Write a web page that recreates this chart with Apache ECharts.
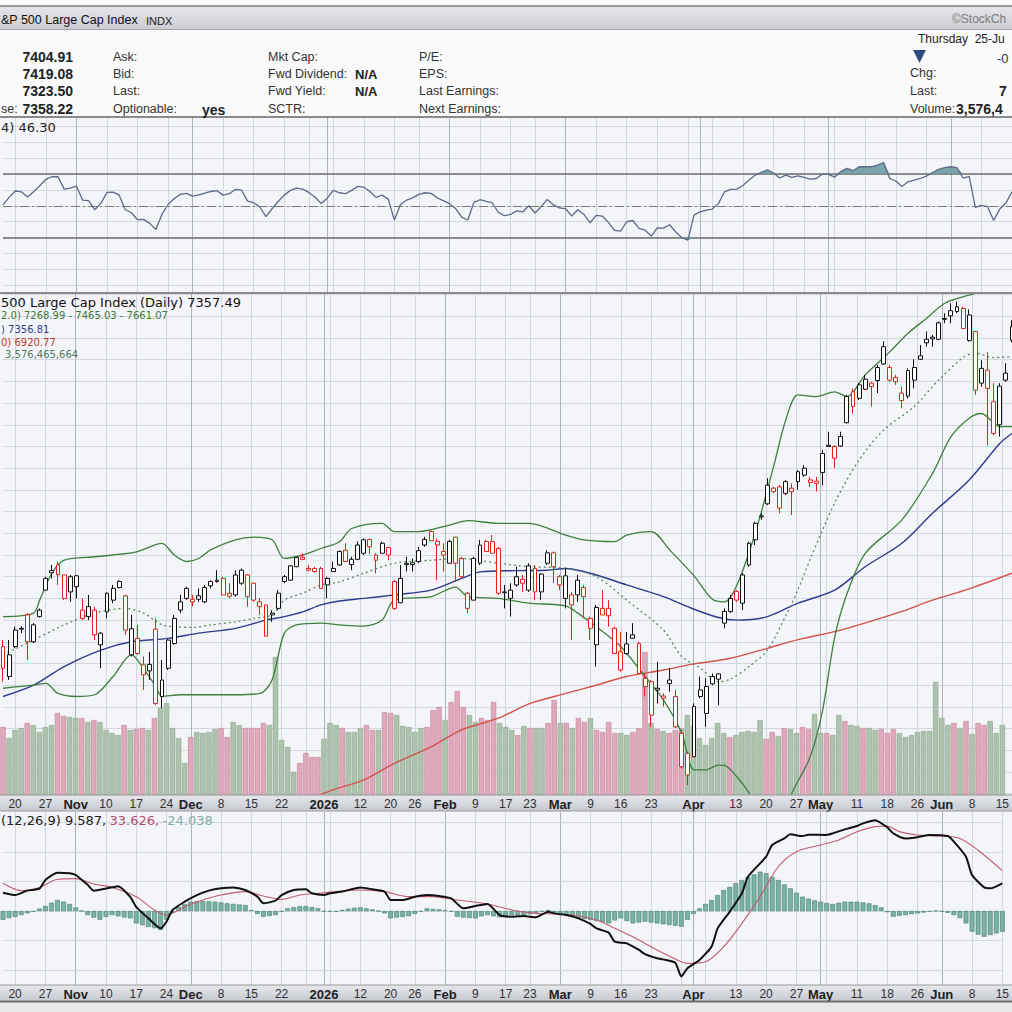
<!DOCTYPE html>
<html>
<head>
<meta charset="utf-8">
<title>S&amp;P 500 Large Cap Index (Daily)</title>
<script src="https://cdn.jsdelivr.net/npm/echarts@6/dist/echarts.min.js"></script>
<style>
  html, body { margin: 0; padding: 0; background: #f4f5f8; }
  #chart { width: 1012px; height: 1012px; }
</style>
</head>
<body>
<div id="chart"></div>
<script>
// trading days visible in the picture
const dates = [
  '2025-10-16','2025-10-17','2025-10-20','2025-10-21','2025-10-22','2025-10-23','2025-10-24','2025-10-27','2025-10-28','2025-10-29','2025-10-30','2025-10-31',
  '2025-11-03','2025-11-04','2025-11-05','2025-11-06','2025-11-07','2025-11-10','2025-11-11','2025-11-12','2025-11-13','2025-11-14','2025-11-17','2025-11-18','2025-11-19','2025-11-20','2025-11-21','2025-11-24','2025-11-25','2025-11-26','2025-11-28',
  '2025-12-01','2025-12-02','2025-12-03','2025-12-04','2025-12-05','2025-12-08','2025-12-09','2025-12-10','2025-12-11','2025-12-12','2025-12-15','2025-12-16','2025-12-17','2025-12-18','2025-12-19','2025-12-22','2025-12-23','2025-12-24','2025-12-26','2025-12-29','2025-12-30','2025-12-31',
  '2026-01-02','2026-01-05','2026-01-06','2026-01-07','2026-01-08','2026-01-09','2026-01-12','2026-01-13','2026-01-14','2026-01-15','2026-01-16','2026-01-20','2026-01-21','2026-01-22','2026-01-23','2026-01-26','2026-01-27','2026-01-28','2026-01-29','2026-01-30',
  '2026-02-02','2026-02-03','2026-02-04','2026-02-05','2026-02-06','2026-02-09','2026-02-10','2026-02-11','2026-02-12','2026-02-13','2026-02-17','2026-02-18','2026-02-19','2026-02-20','2026-02-23','2026-02-24','2026-02-25','2026-02-26','2026-02-27',
  '2026-03-02','2026-03-03','2026-03-04','2026-03-05','2026-03-06','2026-03-09','2026-03-10','2026-03-11','2026-03-12','2026-03-13','2026-03-16','2026-03-17','2026-03-18','2026-03-19','2026-03-20','2026-03-23','2026-03-24','2026-03-25','2026-03-26','2026-03-27','2026-03-30','2026-03-31',
  '2026-04-01','2026-04-02','2026-04-06','2026-04-07','2026-04-08','2026-04-09','2026-04-10','2026-04-13','2026-04-14','2026-04-15','2026-04-16','2026-04-17','2026-04-20','2026-04-21','2026-04-22','2026-04-23','2026-04-24','2026-04-27','2026-04-28','2026-04-29','2026-04-30',
  '2026-05-01','2026-05-04','2026-05-05','2026-05-06','2026-05-07','2026-05-08','2026-05-11','2026-05-12','2026-05-13','2026-05-14','2026-05-15','2026-05-18','2026-05-19','2026-05-20','2026-05-21','2026-05-22','2026-05-26','2026-05-27','2026-05-28','2026-05-29',
  '2026-06-01','2026-06-02','2026-06-03','2026-06-04','2026-06-05','2026-06-08','2026-06-09','2026-06-10','2026-06-11','2026-06-12','2026-06-15'
];

// daily OHLC
const opens = [
  6689,6620,6689,6731,6762,6700,6758,6819,6864,6877,
  6854,6850,6852,6773,6758,6773,6693,6769,6796,6839,
  6806,6670,6708,6647,6633,6729,6574,6639,6696,6773,
  6800,6798,6798,6792,6839,6842,6846,6812,6808,6835,
  6854,6835,6792,6785,6766,6777,6839,6842,6873,6895,
  6869,6869,6869,6846,6862,6877,6911,6878,6890,6904,
  6936,6900,6927,6917,6839,6790,6878,6878,6885,6923,
  6954,6931,6908,6881,6941,6892,6812,6796,6881,6931,
  6931,6915,6815,6800,6831,6844,6819,6869,6815,6881,
  6905,6831,6800,6785,6808,6825,6754,6693,6777,6777,
  6731,6677,6673,6716,6696,6597,6608,6593,6575,6612,
  6574,6489,6443,6435,6574,6535,6603,6614,6743,6770,
  6816,6789,6877,6935,6988,7018,7054,7057,7042,7054,
  7069,7084,7073,7070,7090,7153,7150,7151,7205,7276,
  7261,7282,7288,7302,7340,7332,7309,7273,7266,7303,
  7351,7389,7402,7397,7445,7451,7461,7468,7394,7415,
  7330,7326,7253,7200,7303,7395
];
const closes = [
  6639,6670,6727,6729,6700,6739,6773,6846,6859,6855,
  6800,6815,6827,6754,6781,6716,6720,6812,6823,6825,
  6727,6730,6673,6624,6648,6558,6612,6704,6754,6792,
  6823,6792,6806,6825,6829,6839,6808,6805,6854,6865,
  6804,6796,6781,6713,6762,6812,6850,6875,6894,6890,
  6865,6862,6823,6831,6869,6908,6885,6890,6923,6935,
  6919,6888,6904,6900,6777,6846,6881,6882,6910,6936,
  6933,6923,6900,6931,6881,6850,6777,6892,6923,6908,
  6904,6812,6813,6819,6850,6835,6875,6815,6856,6905,
  6873,6850,6852,6808,6842,6804,6731,6779,6762,6760,
  6673,6635,6695,6708,6627,6616,6531,6589,6570,6604,
  6504,6412,6393,6551,6589,6597,6620,6626,6770,6800,
  6796,6854,6927,6973,6990,7061,7046,7008,7069,7046,
  7092,7100,7067,7065,7134,7150,7123,7173,7265,7242,
  7292,7305,7296,7332,7380,7303,7299,7256,7325,7332,
  7359,7397,7398,7435,7443,7463,7472,7422,7453,7280,
  7296,7284,7180,7289,7319,7426
];
const lows = [
  6608,6612,6685,6720,6658,6697,6756,6818,6846,6831,
  6796,6792,6800,6750,6750,6704,6639,6754,6789,6823,
  6716,6666,6670,6589,6612,6554,6547,6635,6693,6766,
  6796,6782,6792,6789,6823,6836,6808,6800,6804,6831,
  6781,6792,6762,6712,6746,6773,6835,6841,6872,6888,
  6862,6859,6822,6800,6861,6875,6885,6865,6888,6900,
  6902,6858,6904,6888,6773,6789,6862,6862,6881,6919,
  6933,6842,6862,6881,6839,6846,6766,6796,6877,6908,
  6904,6808,6777,6758,6827,6815,6815,6796,6796,6877,
  6835,6819,6777,6704,6792,6754,6704,6643,6762,6735,
  6672,6631,6670,6708,6625,6574,6504,6558,6551,6585,
  6501,6408,6370,6435,6570,6504,6600,6554,6731,6766,
  6792,6773,6873,6923,6981,7015,7042,6996,7038,6992,
  7050,7080,7057,7046,7061,7149,7100,7149,7203,7226,
  7257,7280,7242,7273,7338,7299,7292,7238,7261,7284,
  7349,7380,7380,7395,7434,7434,7457,7422,7392,7269,
  7288,7153,7176,7173,7299,7390
];
const highs = [
  6704,6704,6735,6736,6766,6743,6777,6850,6877,6885,
  6854,6854,6854,6800,6808,6781,6722,6814,6831,6842,
  6808,6762,6739,6666,6677,6754,6658,6706,6762,6808,
  6827,6808,6823,6831,6842,6865,6850,6835,6865,6869,
  6856,6836,6800,6786,6773,6819,6854,6877,6896,6904,
  6877,6873,6873,6850,6885,6911,6927,6896,6931,6938,
  6938,6904,6931,6919,6842,6877,6896,6892,6919,6942,
  6956,6938,6927,6935,6942,6896,6815,6896,6935,6935,
  6946,6919,6831,6835,6873,6854,6881,6877,6858,6911,
  6908,6854,6869,6815,6854,6831,6758,6785,6819,6796,
  6735,6723,6723,6743,6700,6627,6612,6654,6581,6639,
  6589,6497,6447,6558,6620,6616,6627,6627,6777,6808,
  6819,6858,6931,6977,6996,7077,7057,7061,7073,7065,
  7096,7107,7080,7080,7142,7184,7153,7184,7269,7284,
  7296,7315,7299,7338,7392,7338,7315,7288,7330,7351,
  7384,7415,7407,7438,7457,7480,7484,7472,7466,7415,
  7349,7368,7296,7296,7342,7441
];

// daily volume, billions of shares
const volumes = [
  2.72,2.28,2.60,2.68,2.88,2.80,2.52,2.72,2.80,3.28,
  3.16,3.12,3.08,3.08,2.92,3.00,2.92,2.60,2.48,2.40,
  2.80,2.60,2.64,2.68,2.60,3.08,3.48,3.68,2.68,2.28,
  1.28,2.32,2.52,2.48,2.52,2.64,2.68,2.32,2.92,2.80,
  2.68,2.68,2.68,2.88,2.80,5.52,2.20,1.92,0.92,1.28,
  1.68,1.52,1.52,2.24,2.88,2.80,2.68,2.52,2.52,2.68,
  2.80,2.60,2.60,3.32,3.28,3.20,2.76,2.72,2.52,2.68,
  2.72,3.40,3.52,3.00,3.72,4.16,3.52,3.20,2.92,3.08,
  3.00,3.72,2.88,2.72,2.60,2.40,2.76,2.68,2.68,2.68,
  2.88,3.80,2.88,2.88,2.68,3.08,2.92,3.08,2.60,2.52,
  2.92,2.48,2.48,2.40,2.52,2.68,5.72,2.88,2.64,2.56,
  2.48,2.60,2.68,3.20,2.76,2.28,2.00,2.28,2.88,2.48,
  2.32,2.40,2.52,2.56,2.52,3.00,2.24,2.52,2.36,2.68,
  2.64,2.48,2.72,2.64,3.24,2.48,2.48,2.40,3.20,2.96,
  2.80,2.76,2.68,2.68,2.60,2.64,2.48,2.64,2.48,2.32,
  2.40,2.52,2.56,2.56,4.52,3.08,2.80,2.88,2.68,2.96,
  2.44,2.88,2.80,2.96,2.48,2.80
];

// overlays read at sample days: [day index, value]
const bbUpper = [[0,6758],[5,6766],[6,6796],[8,6858],[10,6888],[15,6896],[18,6900],[22,6908],[26,6927],[28,6900],[30,6885],[32,6892],[34,6912],[38,6935],[41,6941],[44,6935],[46,6892],[49,6900],[52,6915],[55,6930],[57,6961],[62,6973],[64,6954],[68,6954],[73,6969],[76,6979],[81,6973],[86,6973],[92,6946],[95,6935],[100,6931],[102,6946],[106,6954],[109,6912],[113,6852],[116,6798],[118,6792],[120,6830],[123,6950],[126,7103],[128,7211],[130,7269],[133,7265],[136,7276],[138,7265],[141,7315],[145,7368],[148,7411],[151,7445],[154,7480],[157,7495],[159,7503],[161,7520],[163,7540],[165,7555]];
const bbMiddle = [[0,6670],[5,6704],[10,6739],[15,6766],[20,6777],[23,6766],[26,6739],[28,6735],[31,6733],[34,6739],[38,6746],[41,6754],[44,6762],[46,6796],[49,6812],[52,6831],[55,6838],[59,6858],[64,6881],[70,6888],[75,6892],[81,6881],[86,6873],[92,6869],[97,6850],[102,6796],[108,6727],[111,6666],[114,6640],[117,6608],[119,6614],[122,6643],[125,6681],[128,6760],[130,6820],[132,6890],[136,7020],[140,7119],[144,7188],[149,7242],[153,7303],[157,7355],[159,7365],[162,7355],[165,7357]];
const bbLower = [[0,6593],[5,6600],[7,6604],[9,6581],[12,6574],[15,6578],[18,6620],[21,6670],[22,6658],[25,6597],[26,6574],[29,6578],[38,6578],[42,6581],[44,6612],[46,6720],[48,6739],[52,6743],[55,6739],[59,6736],[62,6750],[64,6796],[70,6804],[74,6826],[76,6804],[81,6800],[86,6789],[92,6783],[94,6766],[97,6735],[101,6689],[105,6620],[108,6566],[111,6489],[113,6405],[115,6405],[117,6416],[118,6415],[120,6389],[122,6352],[124,6300],[126,6280],[128,6310],[129,6351],[132,6435],[134,6540],[136,6710],[138,6810],[141,6904],[147,6981],[152,7088],[155,7172],[158,7215],[160,7226],[163,7196],[165,7196]];
const sma50 = [[0,6574],[5,6600],[10,6643],[16,6681],[21,6700],[27,6708],[32,6720],[38,6731],[43,6750],[46,6758],[49,6769],[52,6785],[55,6794],[59,6800],[64,6808],[70,6819],[75,6846],[78,6861],[84,6864],[89,6865],[92,6869],[97,6854],[102,6831],[108,6804],[113,6775],[117,6756],[120,6750],[125,6758],[130,6789],[136,6819],[141,6873],[147,6927],[152,6996],[158,7073],[163,7157],[165,7180]];
const sma200 = [[50,6338],[54,6359],[59,6382],[64,6420],[70,6458],[75,6497],[81,6524],[86,6557],[92,6581],[97,6600],[102,6620],[108,6635],[113,6649],[119,6662],[125,6685],[130,6705],[137,6727],[147,6770],[152,6796],[158,6822],[165,6858]];

// RSI(14), one value per day
const rsi14 = [
  50.6,55.3,59.3,58.8,55.5,58.8,62.6,66.6,68.3,68.3,
  60.5,61.1,62.4,53.6,53.2,47.5,51.5,58.4,58.6,56.7,
  47.5,45.6,41.2,41.4,38.9,35.0,44.7,50.8,54.6,57.2,
  57.8,56.1,56.9,58.0,59.0,59.5,56.7,57.6,60.3,59.9,
  52.9,51.9,49.2,43.1,48.1,52.7,56.7,59.7,61.1,60.5,
  58.4,55.5,51.5,54.6,59.7,58.2,57.6,59.7,62.2,61.8,
  59.0,55.3,56.7,54.2,41.0,50.8,53.6,55.0,57.2,58.2,
  57.8,55.0,53.2,51.3,48.3,42.8,41.0,52.1,53.8,52.7,
  51.9,45.8,43.7,44.5,46.8,46.2,50.0,45.4,49.4,54.0,
  50.6,48.7,48.1,43.5,47.5,44.5,39.3,43.9,43.5,39.5,
  34.4,34.0,39.9,40.7,35.7,34.6,30.9,36.1,35.9,38.0,
  33.6,29.8,28.3,44.1,46.2,47.3,47.9,51.5,58.8,60.3,
  60.5,62.8,66.2,69.3,71.0,72.7,70.6,67.5,69.3,67.9,
  68.9,67.9,66.8,67.2,70.0,69.8,68.1,71.5,73.6,72.1,
  74.6,74.6,74.6,75.7,77.3,67.2,65.6,62.2,65.1,66.2,
  67.2,68.7,71.0,72.9,74.0,74.6,74.0,67.5,68.5,49.0,
  50.2,49.4,40.7,47.9,51.7,58.8
];

// MACD(12,26,9): histogram per day, lines at sample days
const macdHist = [
  -15,-12,-10,-7,-4,-1,4,8.5,14,18.6,
  16,12,6,0,-7,-11,-15,-10,-7,-9,
  -11,-12.4,-21,-24,-27,-29,-32,-15,-3,7,
  12,15.8,17,17,16.5,15.8,14.5,13,12,11,
  10,1.7,-5,-9.6,-8.5,-6.8,-1,4.5,6.5,8,
  8.5,6.5,4.5,-1,-1,-1,2,4,5.5,6.2,
  4.5,2.8,0,-4,-12.4,-11,-10,-8.5,-5,-1,
  4.5,3.5,2.8,1,-1,-9.6,-11,-12,-12.4,-9,
  -6.8,-9,-10.7,-9,-6.8,-6.8,-6.8,-5.5,-4,-1,
  1.7,-2.5,-6.8,-8,-9.6,-12,-13.5,-15,-17,-19,
  -21,-16,-12.4,-17,-21,-19.5,-18,-19.5,-21,-22.5,
  -23.7,-25,-26.5,-15,-5,4.5,12,18.6,27,35.6,
  41,47,52.5,58,62,66.7,63.8,58,52.5,45,
  38.4,31,24.3,21,18,15.8,13.5,11.9,14,15.8,
  15.8,15.8,14.5,13,10,6.2,-2,-9.6,-8,-6.8,
  -5.5,-4,-2.5,-1.1,0.5,-1,-3,-6.8,-12,-21,
  -35,-40,-43.5,-40.7,-38,-35
];
const macdLine = [[0,31],[2,27],[4,34.5],[6,38],[7,52.5],[9,65],[11,64],[12,61],[14,44],[15,34.5],[17,38],[19,42],[21,24],[22,7],[24,-12.4],[26,-29.4],[27,-18],[28,1.7],[30,15.8],[32,27],[34,34.5],[36,38.4],[38,40],[40,35.6],[42,24.3],[43,13],[45,17.5],[46,27],[48,35.6],[50,36.7],[51,30],[53,27],[54,30],[56,33],[59,40],[61,36.7],[63,33],[64,18.6],[66,18.6],[68,24.3],[70,27],[72,25.4],[74,21.5],[76,4.5],[78,8.5],[80,11.9],[82,-6.8],[84,-9.6],[86,-8.5],[88,-10.7],[90,-1.1],[91,-4],[93,-6.8],[95,-12.4],[97,-22],[98,-29.4],[100,-36.7],[101,-52],[103,-54.8],[105,-66],[106,-73],[108,-80],[109,-82],[111,-87.6],[112,-111],[113,-97],[115,-83],[117,-60],[118,-29.4],[120,-1.1],[122,30],[123,58],[126,92],[127,112],[129,123],[130,130],[132,127],[133,129.4],[136,129],[137,131.6],[139,138.4],[141,144],[142,148.6],[144,154],[146,141.8],[147,131.6],[149,123],[151,125],[153,129],[156,127],[157,117.5],[159,92],[160,61],[162,40],[163,38.4],[165,47]];
const macdSignal = [[0,47],[3,34.5],[6,40],[9,53.7],[12,54.8],[15,45.8],[18,40],[22,24.3],[25,1.7],[27,-6.8],[30,7.3],[33,18.6],[36,27],[40,32.8],[43,25.4],[46,19.8],[49,27],[52,30],[55,32.8],[59,35.6],[63,32.8],[67,24.3],[71,24.3],[75,18.6],[80,11.9],[84,1.7],[88,-4],[91,-5],[94,-6.8],[98,-15.3],[101,-29.4],[104,-43.5],[107,-60.5],[110,-76.3],[113,-88.7],[116,-85.9],[119,-60.5],[122,-21],[125,24.3],[128,75],[131,100.6],[135,111.9],[138,120.3],[141,134.5],[144,143],[146,144],[148,134.5],[151,128.8],[155,127],[158,123],[161,103],[165,68.4]];

// date axis
const tickDates = ['2025-10-20','2025-10-27','2025-11-03','2025-11-10','2025-11-17','2025-11-24','2025-12-01','2025-12-08','2025-12-15','2025-12-22','2026-01-02','2026-01-12','2026-01-20','2026-01-26','2026-02-02','2026-02-09','2026-02-17','2026-02-23','2026-03-02','2026-03-09','2026-03-16','2026-03-23','2026-04-01','2026-04-13','2026-04-20','2026-04-27','2026-05-01','2026-05-11','2026-05-18','2026-05-26','2026-06-01','2026-06-08','2026-06-15'];
const tickTexts = ['20','27','Nov','10','17','24','Dec','8','15','22','2026','12','20','26','Feb','9','17','23','Mar','9','16','23','Apr','13','20','27','May','11','18','26','Jun','8','15'];
const weekStarts = ['2025-10-20','2025-10-27','2025-11-03','2025-11-10','2025-11-17','2025-11-24','2025-12-01','2025-12-08','2025-12-15','2025-12-22','2025-12-29','2026-01-05','2026-01-12','2026-01-20','2026-01-26','2026-02-02','2026-02-09','2026-02-17','2026-02-23','2026-03-02','2026-03-09','2026-03-16','2026-03-23','2026-03-30','2026-04-06','2026-04-13','2026-04-20','2026-04-27','2026-05-04','2026-05-11','2026-05-18','2026-05-26','2026-06-01','2026-06-08','2026-06-15'];
const monthStarts = ['2025-11-03','2025-12-01','2026-01-02','2026-02-02','2026-03-02','2026-04-01','2026-05-01','2026-06-01'];
const boldTicks = ['Nov','Dec','2026','Feb','Mar','Apr','May','Jun'];

const chart = echarts.init(document.getElementById('chart'), null, { renderer: 'svg' });

const weekSet = new Set(weekStarts);
const monthSet = new Set(monthStarts);
const tickMap = {};
tickDates.forEach((d, i) => { tickMap[d] = tickTexts[i]; });

const RED = '#e2231d', BLACK = '#111111';
const candles = dates.map((d, k) => {
  const prev = k > 0 ? closes[k - 1] : opens[0];
  const c = closes[k] >= prev ? BLACK : RED;
  return { value: [opens[k], closes[k], lows[k], highs[k]],
    itemStyle: { color: '#ffffff', color0: c, borderColor: c, borderColor0: c, borderWidth: 1 } };
});
const volBars = volumes.map((v, k) => {
  const up = k > 0 ? closes[k] >= closes[k - 1] : false;
  return { value: v, itemStyle: up
    ? { color: '#aec3ae', borderColor: '#89a489', borderWidth: 0.6 }
    : { color: '#dfa8bb', borderColor: '#c58199', borderWidth: 0.6 } };
});

const FONT = 'Liberation Sans, Arial, sans-serif';
const LFONT = 'DejaVu Sans, Verdana, sans-serif';
const gridLine = '#d3d8e0';

function catAxis(gridIndex, extra) {
  return Object.assign({
    type: 'category', gridIndex: gridIndex, data: dates, boundaryGap: false,
    axisLine: { show: false }, axisTick: { show: false }, axisLabel: { show: false },
    splitLine: { show: false }
  }, extra);
}
const weekSplit = { show: true, interval: (i, v) => weekSet.has(v), lineStyle: { color: gridLine, width: 1 } };
const monthSplit = { show: true, interval: (i, v) => monthSet.has(v), lineStyle: { color: '#aeb4bf', width: 1 } };
const dateLabels = {
  show: true, margin: 3, hideOverlap: false,
  interval: (i, v) => v in tickMap,
  formatter: v => (boldTicks.indexOf(tickMap[v]) >= 0 ? '{m|' : '{d|') + tickMap[v] + '}',
  rich: {
    m: { fontFamily: FONT, fontWeight: 'bold', fontSize: 13, color: '#222' },
    d: { fontFamily: FONT, fontSize: 12, color: '#333' }
  }
};
function valAxis(gridIndex, extra) {
  return Object.assign({
    type: 'value', gridIndex: gridIndex, axisLine: { show: false }, axisTick: { show: false },
    axisLabel: { show: false }, splitLine: { show: false }
  }, extra);
}

function txt(x, y, text, font, fill, align) {
  return { type: 'text', x: x, y: y, z: 100, silent: true,
    style: { text: text, font: font, fill: fill, align: align || 'left', verticalAlign: 'middle',
      textAlign: align || 'left', textVerticalAlign: 'middle' } };
}
function hline(y, color, w) {
  return { type: 'line', z: 90, silent: true, shape: { x1: 0, y1: y, x2: 1012, y2: y }, style: { stroke: color, lineWidth: w } };
}
function band(y, h) {
  return { type: 'rect', z: -1, silent: true, shape: { x: 0, y: y, width: 1012, height: h },
    style: { fill: new echarts.graphic.LinearGradient(0, 0, 0, 1, [{ offset: 0, color: '#e6e8ec' }, { offset: 1, color: '#c6c9d0' }]) } };
}

const hdr = 'px ' + FONT;
const graphics = [
  { type: 'rect', z: -1, silent: true, shape: { x: 0, y: 0, width: 1012, height: 117 }, style: { fill: '#fafafa' } },
  { type: 'rect', z: -1, silent: true, shape: { x: 0, y: 6, width: 1012, height: 23 },
    style: { fill: new echarts.graphic.LinearGradient(0, 0, 0, 1, [{ offset: 0, color: '#e6e7eb' }, { offset: 1, color: '#cbcdd2' }]) } },
  hline(6, '#7d7d7d', 1.5), hline(29.5, '#a6a6a6', 1),
  band(795, 16), band(985, 16),
  { type: 'rect', z: -1, silent: true, shape: { x: 0, y: 1001, width: 1012, height: 11 }, style: { fill: '#e8e8ea' } },
  hline(117, '#8a8a8a', 2), hline(293, '#8a8a8a', 2),
  hline(795, '#9a9a9a', 1), hline(811, '#9a9a9a', 1),
  hline(985, '#9a9a9a', 1), hline(1001.5, '#6d6d6d', 2),

  // title bar and quote block
  txt(1, 20, '&P 500 Large Cap Index', '12.5' + hdr, '#111'),
  txt(146, 20.5, 'INDX', '11' + hdr, '#222'),
  txt(952, 19, '\u00a9StockCh', '12' + hdr, '#7a7a7a'),
  txt(73, 57, '7404.91', 'bold 14' + hdr, '#222', 'right'),
  txt(73, 74, '7419.08', 'bold 14' + hdr, '#222', 'right'),
  txt(73, 91, '7323.50', 'bold 14' + hdr, '#222', 'right'),
  txt(1, 109, 'se:', '12.5' + hdr, '#333'),
  txt(73, 109, '7358.22', 'bold 14' + hdr, '#222', 'right'),
  txt(113, 57, 'Ask:', '12.5' + hdr, '#333'),
  txt(113, 74, 'Bid:', '12.5' + hdr, '#333'),
  txt(113, 91, 'Last:', '12.5' + hdr, '#333'),
  txt(113, 109, 'Optionable:', '12.5' + hdr, '#333'),
  txt(202, 110, 'yes', 'bold 14' + hdr, '#222'),
  txt(268, 57, 'Mkt Cap:', '12.5' + hdr, '#333'),
  txt(268, 74, 'Fwd Dividend:', '12.5' + hdr, '#333'),
  txt(355, 74, 'N/A', 'bold 13' + hdr, '#222'),
  txt(268, 91, 'Fwd Yield:', '12.5' + hdr, '#333'),
  txt(355, 91, 'N/A', 'bold 13' + hdr, '#222'),
  txt(268, 109, 'SCTR:', '12.5' + hdr, '#333'),
  txt(419, 57, 'P/E:', '12.5' + hdr, '#333'),
  txt(419, 74, 'EPS:', '12.5' + hdr, '#333'),
  txt(419, 91, 'Last Earnings:', '12.5' + hdr, '#333'),
  txt(419, 109, 'Next Earnings:', '12.5' + hdr, '#333'),
  txt(918, 38.5, 'Thursday  25-Ju', '12' + hdr, '#222'),
  { type: 'polygon', z: 100, silent: true, shape: { points: [[913, 50], [926, 50], [919.5, 63]] }, style: { fill: '#2f4b7c' } },
  txt(997, 58, '-0', '13' + hdr, '#334'),
  txt(910, 73, 'Chg:', '12.5' + hdr, '#333'),
  txt(910, 91, 'Last:', '12.5' + hdr, '#333'),
  txt(999, 91, '7', 'bold 14' + hdr, '#222'),
  txt(910, 109, 'Volume:', '12.5' + hdr, '#333'),
  txt(956, 109, '3,576,4', 'bold 14' + hdr, '#222'),

  // panel legends
  txt(1, 127, '4) 46.30', '13px ' + LFONT, '#222'),
  txt(1, 302, '500 Large Cap Index (Daily) 7357.49', '13px ' + LFONT, '#111'),
  txt(1, 315, '2.0) 7268.99 - 7465.03 - 7661.07', '10px ' + LFONT, '#3d7a3d'),
  txt(1, 329, ') 7356.81', '10px ' + LFONT, '#2f3c8c'),
  txt(1, 342, '0) 6920.77', '10px ' + LFONT, '#c0392b'),
  txt(5, 354, '3,576,465,664', '10px ' + LFONT, '#4f7a5c'),
  { type: 'text', x: 1, y: 820, z: 100, silent: true,
    style: { text: '{k|(12,26,9) 9.587,} {r|33.626,} {g|-24.038}', verticalAlign: 'middle', textVerticalAlign: 'middle',
      rich: {
        k: { font: '13px ' + LFONT, fill: '#222', color: '#222' },
        r: { font: '13px ' + LFONT, fill: '#b4506a', color: '#b4506a' },
        g: { font: '13px ' + LFONT, fill: '#7fb0a4', color: '#7fb0a4' }
      } } }
];

const macdGrid = [-100, -50, 0, 50, 100, 150];
const flat70 = dates.map(() => 70);

chart.setOption({
  animation: false,
  backgroundColor: '#f4f5f8',
  graphic: { elements: graphics },
  grid: [
    { left: 3, right: 0, top: 117, height: 176 },      // RSI frame
    { left: 3, right: 0, top: 126.5, height: 158.5 },  // RSI 0..100
    { left: 3, right: 0, top: 293, height: 502 },      // price frame + volume
    { left: 3, right: 0, top: 294.6, height: 499.1 },  // price 6350..7500
    { left: 3, right: 0, top: 812, height: 173 }       // MACD
  ],
  xAxis: [
    catAxis(0, { position: 'bottom', splitLine: weekSplit }),
    catAxis(0, { position: 'top', splitLine: monthSplit }),
    catAxis(1, {}),
    catAxis(2, { position: 'bottom', splitLine: weekSplit, axisLabel: dateLabels }),
    catAxis(2, { position: 'top', splitLine: monthSplit }),
    catAxis(3, {}),
    catAxis(4, { position: 'bottom', splitLine: weekSplit, axisLabel: dateLabels }),
    catAxis(4, { position: 'top', splitLine: monthSplit })
  ],
  yAxis: [
    valAxis(0, { min: 0, max: 1 }),
    valAxis(1, { min: 0, max: 100, interval: 10, splitLine: { show: true, lineStyle: { color: gridLine } } }),
    valAxis(2, { min: 0, max: 20.08 }),
    valAxis(3, { min: 6350, max: 7500, interval: 50, splitLine: { show: true, lineStyle: { color: gridLine } } }),
    valAxis(4, { min: -125.4, max: 167.8 })
  ],
  series: [
    // RSI shading above 70 and below 30
    { type: 'line', xAxisIndex: 2, yAxisIndex: 1, data: flat70, stack: 'ob', symbol: 'none', silent: true,
      lineStyle: { width: 0, opacity: 0 }, z: 2 },
    { type: 'line', xAxisIndex: 2, yAxisIndex: 1, data: rsi14.map(v => Math.max(v - 70, 0)), stack: 'ob', symbol: 'none', silent: true,
      lineStyle: { width: 0, opacity: 0 }, areaStyle: { color: '#6e9aa2', opacity: 0.9 }, z: 2 },
    { type: 'line', xAxisIndex: 2, yAxisIndex: 1, data: rsi14.map(v => Math.min(v, 30)), stack: 'os', symbol: 'none', silent: true,
      lineStyle: { width: 0, opacity: 0 }, z: 2 },
    { type: 'line', xAxisIndex: 2, yAxisIndex: 1, data: rsi14.map(v => 30 - Math.min(v, 30)), stack: 'os', symbol: 'none', silent: true,
      lineStyle: { width: 0, opacity: 0 }, areaStyle: { color: '#6e9aa2', opacity: 0.9 }, z: 2 },
    { type: 'line', xAxisIndex: 2, yAxisIndex: 1, data: rsi14, symbol: 'none',
      lineStyle: { color: '#5d6a88', width: 1.3 }, z: 3,
      markLine: { silent: true, symbol: 'none', label: { show: false }, z: 2,
        data: [
          { yAxis: 70, lineStyle: { color: '#6e6e6e', width: 1.6, type: 'solid' } },
          { yAxis: 30, lineStyle: { color: '#6e6e6e', width: 1.6, type: 'solid' } },
          { yAxis: 50, lineStyle: { color: '#7a7a7a', width: 1, type: [9, 3, 2, 3] } }
        ] } },

    // volume
    { type: 'bar', xAxisIndex: 3, yAxisIndex: 2, data: volBars, barWidth: 5.3, z: 1, silent: true },

    // price overlays
    { type: 'line', xAxisIndex: 5, yAxisIndex: 3, data: sma200, smooth: 0.3, symbol: 'none', lineStyle: { color: '#d4504c', width: 1.4 }, z: 3 },
    { type: 'line', xAxisIndex: 5, yAxisIndex: 3, data: sma50, smooth: 0.3, symbol: 'none', lineStyle: { color: '#2e3a8c', width: 1.4 }, z: 3 },
    { type: 'line', xAxisIndex: 5, yAxisIndex: 3, data: bbUpper, smooth: 0.3, symbol: 'none', lineStyle: { color: '#3f7f3f', width: 1.3 }, z: 3 },
    { type: 'line', xAxisIndex: 5, yAxisIndex: 3, data: bbLower, smooth: 0.3, symbol: 'none', lineStyle: { color: '#3f7f3f', width: 1.3 }, z: 3 },
    { type: 'line', xAxisIndex: 5, yAxisIndex: 3, data: bbMiddle, smooth: 0.3, symbol: 'none', lineStyle: { color: '#5b875b', width: 1.3, type: [2, 3] }, z: 3 },

    // candles
    { type: 'candlestick', xAxisIndex: 5, yAxisIndex: 3, data: candles, barWidth: 4.4, z: 5 },

    // MACD
    { type: 'bar', xAxisIndex: 6, yAxisIndex: 4, data: macdHist, barWidth: 4.8, z: 2,
      itemStyle: { color: '#7ab2a4', borderColor: '#3f7f70', borderWidth: 0.6 },
      markLine: { silent: true, symbol: 'none', label: { show: false }, z: 1,
        lineStyle: { color: gridLine, width: 1, type: 'solid' },
        data: macdGrid.map(v => ({ yAxis: v })) } },
    { type: 'line', xAxisIndex: 6, yAxisIndex: 4, data: macdSignal, smooth: 0.3, symbol: 'none', lineStyle: { color: '#c25b72', width: 1.1 }, z: 3 },
    { type: 'line', xAxisIndex: 6, yAxisIndex: 4, data: macdLine, smooth: 0.2, symbol: 'none', lineStyle: { color: '#111', width: 2 }, z: 4 }
  ]
});
</script>
</body>
</html>
